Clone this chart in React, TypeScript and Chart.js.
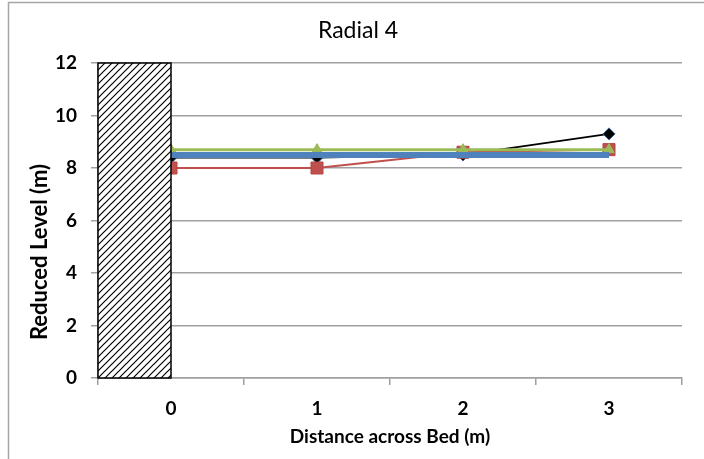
import React, { useEffect, useRef } from 'react';
import { Chart, registerables } from 'chart.js';

Chart.register(...registerables);

const CATEGORIES = ['0', '1', '2', '3'];
const Y_MIN = 0;
const Y_MAX = 12;
const Y_STEP = 2;
const SERIES_BLACK = [8.4, 8.4, 8.5, 9.3];
const SERIES_RED = [8.0, 8.0, 8.6, 8.7];
const SERIES_GREEN = [8.7, 8.7, 8.7, 8.7];
const SERIES_BLUE = [8.5, 8.5, 8.5, 8.5];
const WALL_FROM = -0.5;
const WALL_TO = 0;
const WALL_TOP = 12;
const TITLE = 'Radial 4';
const X_TITLE = 'Distance across Bed (m)';
const Y_TITLE = 'Reduced Level (m)';

const FONT = 'Lato, "Open Sans", sans-serif';

function makePattern(ctx: CanvasRenderingContext2D): CanvasPattern | string {
  const s = 7;
  const c = document.createElement('canvas');
  c.width = s;
  c.height = s;
  const p = c.getContext('2d');
  if (!p) return '#888';
  p.fillStyle = '#fff';
  p.fillRect(0, 0, s, s);
  p.strokeStyle = '#000';
  p.lineWidth = 1.2;
  p.beginPath();
  p.moveTo(0, s);
  p.lineTo(s, 0);
  p.moveTo(-1, 1);
  p.lineTo(1, -1);
  p.moveTo(s - 1, s + 1);
  p.lineTo(s + 1, s - 1);
  p.stroke();
  return ctx.createPattern(c, 'repeat') || '#888';
}

const framePlugin = {
  id: 'frame',
  beforeDraw(chart: any) {
    const ctx = chart.ctx;
    ctx.save();
    ctx.fillStyle = '#fff';
    ctx.fillRect(0, 0, chart.width, chart.height);
    ctx.strokeStyle = '#a6a6a6';
    ctx.lineWidth = 1.5;
    ctx.beginPath();
    ctx.moveTo(8.5, chart.height + 5);
    ctx.lineTo(8.5, 2.5);
    ctx.lineTo(chart.width + 5, 2.5);
    ctx.stroke();
    ctx.restore();
  },
};

const wallPlugin = {
  id: 'wall',
  afterDatasetsDraw(chart: any) {
    const ctx = chart.ctx;
    const xs = chart.scales.x;
    const ys = chart.scales.y;
    const x0 = xs.getPixelForValue(WALL_FROM);
    const x1 = xs.getPixelForValue(WALL_TO);
    const y0 = ys.getPixelForValue(0);
    const y1 = ys.getPixelForValue(WALL_TOP);
    ctx.save();
    ctx.fillStyle = makePattern(ctx);
    ctx.fillRect(x0, y1, x1 - x0, y0 - y1);
    ctx.strokeStyle = '#000';
    ctx.lineWidth = 1.5;
    ctx.strokeRect(x0, y1, x1 - x0, y0 - y1);
    ctx.restore();
  },
};

const textPlugin = {
  id: 'texts',
  afterDraw(chart: any) {
    const ctx = chart.ctx;
    const area = chart.chartArea;
    ctx.save();
    ctx.fillStyle = '#000';
    ctx.textAlign = 'center';
    ctx.textBaseline = 'middle';
    ctx.font = `normal 23px ${FONT}`;
    ctx.fillText(TITLE, 358, 31);
    ctx.font = `bold 19px ${FONT}`;
    ctx.fillText(X_TITLE, (area.left + area.right) / 2, 437);
    ctx.font = `bold 22px ${FONT}`;
    ctx.translate(40, 252);
    ctx.rotate(-Math.PI / 2);
    ctx.fillText(Y_TITLE, 0, 0);
    ctx.restore();
  },
};

export default function App() {
  const ref = useRef<HTMLCanvasElement | null>(null);

  useEffect(() => {
    if (!ref.current) return;
    const chart = new Chart(ref.current, {
      type: 'line',
      data: {
        labels: CATEGORIES,
        datasets: [
          {
            label: 'Series 1',
            data: SERIES_BLACK,
            borderColor: '#000',
            borderWidth: 2,
            pointStyle: 'rectRot',
            pointRadius: 6,
            pointBackgroundColor: '#000',
            pointBorderColor: '#2f5fa0',
            pointBorderWidth: 1,
            order: 3,
          },
          {
            label: 'Series 2',
            data: SERIES_RED,
            borderColor: '#c0504d',
            borderWidth: 2,
            pointStyle: 'rect',
            pointRadius: 8.5,
            pointBackgroundColor: '#c0504d',
            pointBorderColor: '#b04845',
            pointBorderWidth: 1,
            order: 2,
          },
          {
            label: 'Series 3',
            data: SERIES_GREEN,
            borderColor: '#9bbb59',
            borderWidth: 3,
            pointStyle: 'triangle',
            pointRadius: 6,
            pointBackgroundColor: '#9bbb59',
            pointBorderColor: '#9bbb59',
            pointBorderWidth: 1,
            order: 1,
          },
          {
            label: 'Series 4',
            data: SERIES_BLUE,
            borderColor: '#4f81bd',
            borderWidth: 6,
            pointRadius: 0,
            borderCapStyle: 'butt',
            order: 0,
          },
        ],
      },
      options: {
        responsive: false,
        animation: false,
        devicePixelRatio: 1,
        layout: { padding: { left: 0, right: 22, top: 63, bottom: 0 } },
        plugins: {
          legend: { display: false },
          title: { display: false },
          tooltip: { enabled: false },
        },
        scales: {
          x: {
            type: 'category',
            offset: true,
            afterFit(scale: any) {
              scale.height = 81;
            },
            grid: {
              offset: true,
              drawOnChartArea: false,
              drawTicks: true,
              tickLength: 7,
              color: '#a0a0a0',
              lineWidth: 1.5,
            },
            border: { display: true, color: '#a0a0a0', width: 1.5 },
            ticks: {
              color: '#000',
              font: { family: FONT, size: 19, weight: 'bold' },
              padding: 12,
              maxRotation: 0,
            },
          },
          y: {
            min: Y_MIN,
            max: Y_MAX,
            afterFit(scale: any) {
              scale.width = 98;
            },
            grid: {
              color: '#a0a0a0',
              lineWidth: 1.5,
              tickLength: 7,
            },
            border: { display: true, color: '#a0a0a0', width: 1.5 },
            ticks: {
              stepSize: Y_STEP,
              color: '#000',
              font: { family: FONT, size: 19, weight: 'bold' },
              padding: 14,
            },
          },
        },
      },
      plugins: [framePlugin, wallPlugin, textPlugin],
    } as any);
    return () => chart.destroy();
  }, []);

  return (
    <div style={{ position: 'fixed', left: 0, top: 0, width: 704, height: 459, overflow: 'hidden', background: '#fff' }}>
      <canvas ref={ref} width={704} height={459} style={{ display: 'block', width: 704, height: 459 }} />
    </div>
  );
}
